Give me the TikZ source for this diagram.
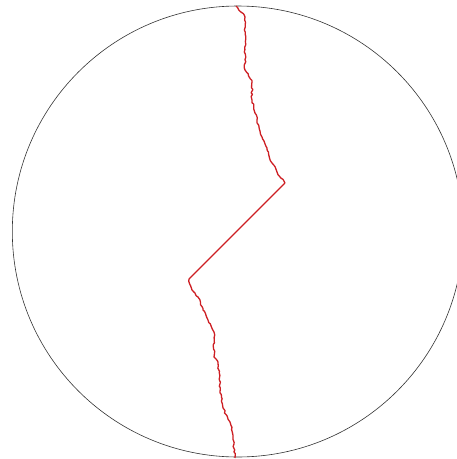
\documentclass[tikz,border=0pt]{standalone}
\usetikzlibrary{decorations.pathmorphing}
\definecolor{crackred}{RGB}{205,30,35}
\begin{document}
\begin{tikzpicture}[x=1pt,y=-1pt,
    rim/.style={draw=black!80,line width=0.6pt},
    crack/.style={draw=crackred,line width=1.3pt,line join=round},
    jag/.style={crack,decorate,decoration={random steps,segment length=2.5pt,amplitude=0.9pt}}]
  \useasboundingbox (0,0) rectangle (457,459);
  \clip (0,0) rectangle (457,459);
  \pgfmathsetseed{7}
  % disc outline
  \draw[rim] (237.8,231.5) circle (225.5);
  % kink points of the crack
  \coordinate (top) at (236,6);
  \coordinate (upperkink) at (285,183);
  \coordinate (lowerkink) at (189,279);
  \coordinate (bottom) at (235,458);
  \draw[jag] (top) -- (245,17) -- (245,70) -- (252,82) -- (252,100)
    -- (255,113) -- (259,127) -- (262,137) -- (267,148) -- (272,163)
    -- (277,172) -- (upperkink);
  \draw[crack] (upperkink) -- (lowerkink);
  \draw[jag] (lowerkink) -- (192,290) -- (198,297) -- (203,310)
    -- (208,320) -- (214,332) -- (214,357) -- (218,363) -- (220,387)
    -- (223,408) -- (230,422) -- (233,437) -- (bottom);
\end{tikzpicture}
\end{document}
